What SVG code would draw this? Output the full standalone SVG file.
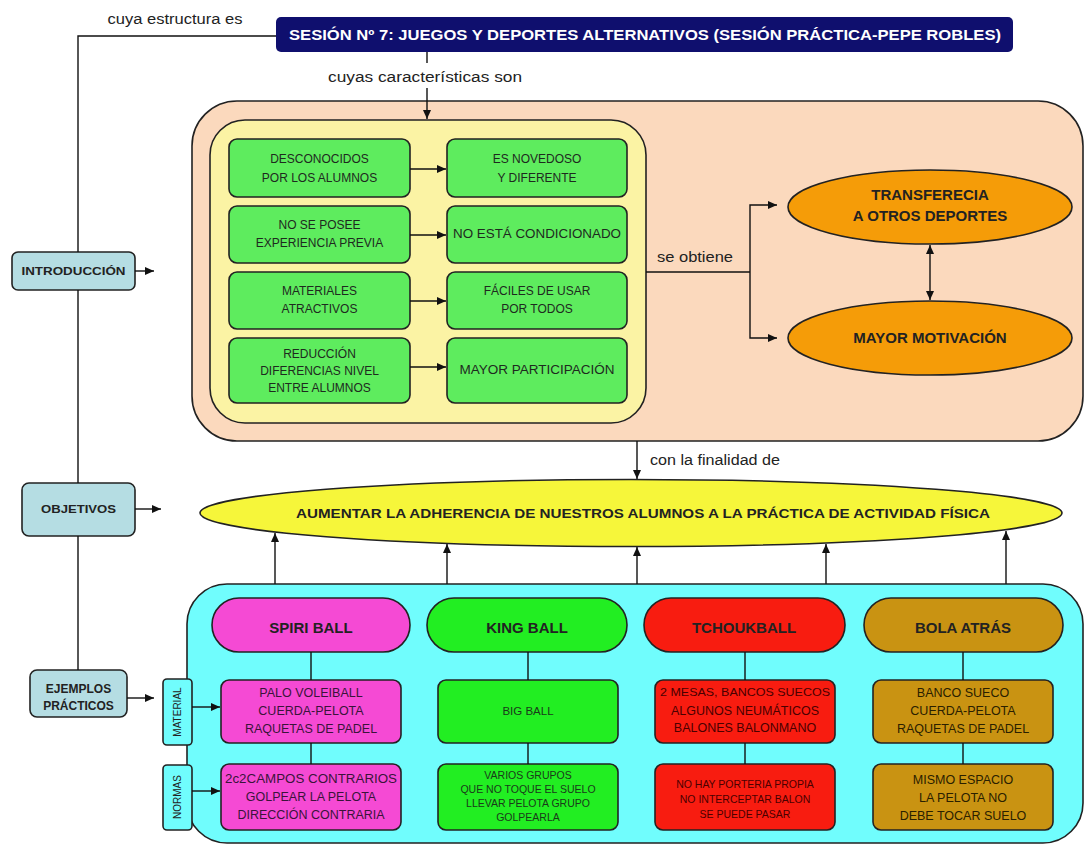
<svg xmlns="http://www.w3.org/2000/svg" width="1085" height="846" viewBox="0 0 1085 846">
<style>
text{font-family:"Liberation Sans",Arial,sans-serif;text-anchor:middle;fill:#222}
.lbl{font-size:14px;fill:#222}
.b{font-weight:bold}
.box{stroke:#222;stroke-width:1.6}
.ln{stroke:#111;stroke-width:1.4;fill:none}
.gt{font-size:12px;fill:#1e2a1e}
.side{fill:#b5dde3}
</style>
<defs>
<marker id="ah" markerWidth="9" markerHeight="8" refX="9" refY="4" orient="auto" markerUnits="userSpaceOnUse">
<path d="M0,0 L9,4 L0,8 z" fill="#111"/>
</marker>
<marker id="as" markerWidth="9" markerHeight="8" refX="0" refY="4" orient="auto" markerUnits="userSpaceOnUse">
<path d="M9,0 L0,4 L9,8 z" fill="#111"/>
</marker>
</defs>
<rect width="1085" height="846" fill="#ffffff"/>

<g id="title">
<rect x="276" y="17" width="737" height="35" rx="5" fill="#0f0f6e"/>
<text class="b" x="645" y="40" font-size="14" style="fill:#fff" textLength="712" lengthAdjust="spacingAndGlyphs">SESIÓN Nº 7: JUEGOS Y DEPORTES ALTERNATIVOS (SESIÓN PRÁCTICA-PEPE ROBLES)</text>
</g>

<g id="intro">
<rect class="box side" x="12" y="252" width="123" height="38" rx="6"/>
<text class="b" x="73.5" y="275" font-size="11" textLength="104" lengthAdjust="spacingAndGlyphs">INTRODUCCIÓN</text>
</g>
<g id="objetivos">
<rect class="box side" x="22" y="483" width="113" height="53" rx="7"/>
<text class="b" x="78.5" y="513" font-size="11" textLength="75" lengthAdjust="spacingAndGlyphs">OBJETIVOS</text>
</g>
<g id="ejemplos">
<rect class="box side" x="30" y="670" width="97" height="47" rx="7"/>
<text class="b" x="78.5" y="693" font-size="12">EJEMPLOS</text>
<text class="b" x="78.5" y="710" font-size="12">PRÁCTICOS</text>
</g>

<g id="caracteristicas">
<rect class="box" x="192" y="101" width="891" height="340" rx="45" fill="#fbd9bd"/>
<rect class="box" x="210" y="120" width="436" height="303" rx="35" fill="#fbf3a4"/>
</g>

<g id="g1"><rect class="box" x="229" y="139" width="181" height="58" rx="8" fill="#5eec5e"/>
<text class="gt" x="319.5" y="163">DESCONOCIDOS</text><text class="gt" x="319.5" y="182">POR LOS ALUMNOS</text></g>
<g id="g2"><rect class="box" x="447" y="139" width="180" height="58" rx="8" fill="#5eec5e"/>
<text class="gt" x="537" y="163">ES NOVEDOSO</text><text class="gt" x="537" y="182">Y DIFERENTE</text></g>
<g id="g3"><rect class="box" x="229" y="206" width="181" height="57" rx="8" fill="#5eec5e"/>
<text class="gt" x="319.5" y="229">NO SE POSEE</text><text class="gt" x="319.5" y="247">EXPERIENCIA PREVIA</text></g>
<g id="g4"><rect class="box" x="447" y="206" width="180" height="57" rx="8" fill="#5eec5e"/>
<text class="gt" x="537" y="238" textLength="168" lengthAdjust="spacingAndGlyphs">NO ESTÁ CONDICIONADO</text></g>
<g id="g5"><rect class="box" x="229" y="272" width="181" height="57" rx="8" fill="#5eec5e"/>
<text class="gt" x="319.5" y="295">MATERIALES</text><text class="gt" x="319.5" y="313">ATRACTIVOS</text></g>
<g id="g6"><rect class="box" x="447" y="272" width="180" height="57" rx="8" fill="#5eec5e"/>
<text class="gt" x="537" y="295">FÁCILES DE USAR</text><text class="gt" x="537" y="313">POR TODOS</text></g>
<g id="g7"><rect class="box" x="229" y="338" width="181" height="65" rx="8" fill="#5eec5e"/>
<text class="gt" x="319.5" y="358">REDUCCIÓN</text><text class="gt" x="319.5" y="375">DIFERENCIAS NIVEL</text><text class="gt" x="319.5" y="392">ENTRE ALUMNOS</text></g>
<g id="g8"><rect class="box" x="447" y="338" width="180" height="65" rx="8" fill="#5eec5e"/>
<text class="gt" x="537" y="374" textLength="155" lengthAdjust="spacingAndGlyphs">MAYOR PARTICIPACIÓN</text></g>

<g id="transferencia">
<ellipse class="box" cx="930" cy="207" rx="142" ry="37" fill="#f59c08"/>
<text class="b" x="930" y="200" font-size="15">TRANSFERECIA</text>
<text class="b" x="930" y="221" font-size="15">A OTROS DEPORTES</text>
</g>
<g id="motivacion">
<ellipse class="box" cx="930" cy="338" rx="142" ry="37" fill="#f59c08"/>
<text class="b" x="930" y="343" font-size="15">MAYOR MOTIVACIÓN</text>
</g>

<g id="finalidad">
<ellipse class="box" cx="631" cy="513" rx="431" ry="33.5" fill="#f6f63a"/>
<text class="b" x="643" y="518" font-size="13" textLength="694" lengthAdjust="spacingAndGlyphs">AUMENTAR LA ADHERENCIA DE NUESTROS ALUMNOS A LA PRÁCTICA DE ACTIVIDAD FÍSICA</text>
</g>

<g id="ejemplos-panel">
<rect class="box" x="187" y="584" width="896" height="259" rx="40" fill="#70fdfd"/>
</g>
<g id="material">
<rect class="box" x="163" y="679" width="29" height="66" rx="4" fill="#70fdfd"/>
<text x="0" y="0" font-size="10" transform="translate(181,712) rotate(-90)">MATERIAL</text>
</g>
<g id="normas">
<rect class="box" x="163" y="765" width="29" height="65" rx="4" fill="#70fdfd"/>
<text x="0" y="0" font-size="10" transform="translate(181,797) rotate(-90)">NORMAS</text>
</g>

<g id="spiri">
<rect class="box" x="212" y="598" width="198" height="54" rx="27" fill="#f54ad4"/>
<text class="b" x="311" y="633" font-size="15">SPIRI BALL</text>
<rect class="box" x="221" y="680" width="180" height="63" rx="8" fill="#f54ad4"/>
<text x="311" y="697" font-size="12.5" style="fill:#3a143a">PALO VOLEIBALL</text>
<text x="311" y="715" font-size="12.5" style="fill:#3a143a">CUERDA-PELOTA</text>
<text x="311" y="733" font-size="12.5" style="fill:#3a143a">RAQUETAS DE PADEL</text>
<rect class="box" x="221" y="764" width="180" height="66" rx="8" fill="#f54ad4"/>
<text x="311" y="783" font-size="12.5" style="fill:#3a143a" textLength="172" lengthAdjust="spacingAndGlyphs">2c2CAMPOS CONTRARIOS</text>
<text x="311" y="801" font-size="12.5" style="fill:#3a143a">GOLPEAR LA PELOTA</text>
<text x="311" y="819" font-size="12.5" style="fill:#3a143a">DIRECCIÓN CONTRARIA</text>
</g>

<g id="king">
<rect class="box" x="427" y="598" width="200" height="54" rx="27" fill="#22ee22"/>
<text class="b" x="527" y="633" font-size="15">KING BALL</text>
<rect class="box" x="438" y="680" width="180" height="63" rx="8" fill="#22ee22"/>
<text x="528" y="715" font-size="11.5" style="fill:#1a3a1a">BIG BALL</text>
<rect class="box" x="438" y="764" width="180" height="66" rx="8" fill="#22ee22"/>
<text x="528" y="779" font-size="10.5" style="fill:#1a3a1a">VARIOS GRUPOS</text>
<text x="528" y="793" font-size="10.5" style="fill:#1a3a1a">QUE NO TOQUE EL SUELO</text>
<text x="528" y="807" font-size="10.5" style="fill:#1a3a1a">LLEVAR PELOTA GRUPO</text>
<text x="528" y="821" font-size="10.5" style="fill:#1a3a1a">GOLPEARLA</text>
</g>

<g id="tchouk">
<rect class="box" x="644" y="598" width="201" height="54" rx="27" fill="#f81c10"/>
<text class="b" x="744" y="633" font-size="15">TCHOUKBALL</text>
<rect class="box" x="655" y="680" width="180" height="63" rx="8" fill="#f81c10"/>
<text x="745" y="696" font-size="10.5" style="fill:#4a0000" textLength="170" lengthAdjust="spacingAndGlyphs">2 MESAS, BANCOS SUECOS</text>
<text x="745" y="715" font-size="12.5" style="fill:#4a0000">ALGUNOS NEUMÁTICOS</text>
<text x="745" y="732" font-size="12.5" style="fill:#4a0000">BALONES BALONMANO</text>
<rect class="box" x="655" y="764" width="180" height="66" rx="8" fill="#f81c10"/>
<text x="745" y="788" font-size="10.5" style="fill:#4a0000">NO HAY PORTERIA PROPIA</text>
<text x="745" y="803" font-size="10.5" style="fill:#4a0000">NO INTERCEPTAR BALON</text>
<text x="745" y="818" font-size="10.5" style="fill:#4a0000">SE PUEDE PASAR</text>
</g>

<g id="bola">
<rect class="box" x="864" y="598" width="199" height="54" rx="27" fill="#c99312"/>
<text class="b" x="963" y="633" font-size="15">BOLA ATRÁS</text>
<rect class="box" x="873" y="680" width="180" height="63" rx="8" fill="#c99312"/>
<text x="963" y="697" font-size="12.5" style="fill:#2a2000">BANCO SUECO</text>
<text x="963" y="715" font-size="12.5" style="fill:#2a2000">CUERDA-PELOTA</text>
<text x="963" y="733" font-size="12.5" style="fill:#2a2000">RAQUETAS DE PADEL</text>
<rect class="box" x="873" y="764" width="180" height="66" rx="8" fill="#c99312"/>
<text x="963" y="784" font-size="12.5" style="fill:#2a2000">MISMO ESPACIO</text>
<text x="963" y="802" font-size="12.5" style="fill:#2a2000">LA PELOTA NO</text>
<text x="963" y="820" font-size="12.5" style="fill:#2a2000">DEBE TOCAR SUELO</text>
</g>

<g id="connectors">
<path class="ln" d="M276,36 H78 V252 M78,290 V483 M78,536 V670"/>
<path class="ln" d="M427,52 V63"/>
<path class="ln" d="M427,88 V119" marker-end="url(#ah)"/>
<path class="ln" d="M135,271 H154" marker-end="url(#ah)"/>
<path class="ln" d="M135,509 H161" marker-end="url(#ah)"/>
<path class="ln" d="M127,698 H154" marker-end="url(#ah)"/>
<path class="ln" d="M410,169 H446" marker-end="url(#ah)"/>
<path class="ln" d="M410,235 H446" marker-end="url(#ah)"/>
<path class="ln" d="M410,301 H446" marker-end="url(#ah)"/>
<path class="ln" d="M410,367 H446" marker-end="url(#ah)"/>
<path class="ln" d="M646,272 H750"/>
<path class="ln" d="M777,205 H750 V338 H777" marker-start="url(#as)" marker-end="url(#ah)"/>
<path class="ln" d="M930,245 V300" marker-start="url(#as)" marker-end="url(#ah)"/>
<path class="ln" d="M637,441 V479" marker-end="url(#ah)"/>
<path class="ln" d="M275,584 V533" marker-end="url(#ah)"/>
<path class="ln" d="M447,584 V544" marker-end="url(#ah)"/>
<path class="ln" d="M637,584 V547" marker-end="url(#ah)"/>
<path class="ln" d="M826,584 V544" marker-end="url(#ah)"/>
<path class="ln" d="M1006,584 V531" marker-end="url(#ah)"/>
<path class="ln" d="M311,652 V680 M311,743 V764"/>
<path class="ln" d="M528,652 V680 M528,743 V764"/>
<path class="ln" d="M745,652 V680 M745,743 V764"/>
<path class="ln" d="M963,652 V680 M963,743 V764"/>
<path class="ln" d="M192,707 H220" marker-end="url(#ah)"/>
<path class="ln" d="M192,791 H220" marker-end="url(#ah)"/>
<text class="lbl" x="175" y="24" textLength="135" lengthAdjust="spacingAndGlyphs">cuya estructura es</text>
<text class="lbl" x="425" y="82" textLength="194" lengthAdjust="spacingAndGlyphs">cuyas características son</text>
<text class="lbl" x="695" y="262" textLength="76" lengthAdjust="spacingAndGlyphs">se obtiene</text>
<text class="lbl" x="715" y="465" textLength="130" lengthAdjust="spacingAndGlyphs">con la finalidad de</text>
</g>
</svg>
